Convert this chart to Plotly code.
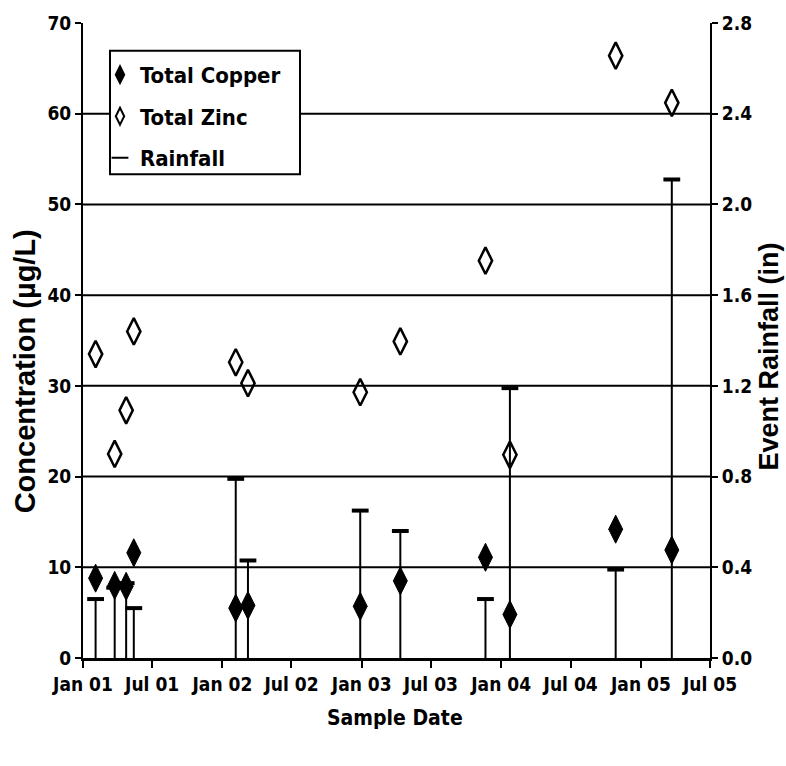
import plotly.graph_objects as go

# ---- data ----
sample_dates = ["2001-02-03", "2001-03-25", "2001-04-24", "2001-05-14",
                "2002-02-05", "2002-03-09", "2002-12-28", "2003-04-12",
                "2003-11-21", "2004-01-24", "2004-10-27", "2005-03-23"]
total_copper = [8.8, 8.0, 7.9, 11.6, 5.5, 5.8, 5.7, 8.5, 11.1, 4.8, 14.2, 11.9]
total_zinc = [33.5, 22.5, 27.3, 36.0, 32.6, 30.3, 29.3, 34.9, 43.8, 22.4, 66.4, 61.2]
rainfall = [0.26, 0.31, 0.33, 0.22, 0.79, 0.43, 0.65, 0.56, 0.26, 1.19, 0.39, 2.11]

x_tick_vals = ["2001-01-01", "2001-07-01", "2002-01-01", "2002-07-01", "2003-01-01",
               "2003-07-01", "2004-01-01", "2004-07-01", "2005-01-01", "2005-07-01"]
x_tick_text = ["Jan 01", "Jul 01", "Jan 02", "Jul 02", "Jan 03",
               "Jul 03", "Jan 04", "Jul 04", "Jan 05", "Jul 05"]
y_tick_vals = [0, 10, 20, 30, 40, 50, 60, 70]
y2_tick_vals = [0.0, 0.4, 0.8, 1.2, 1.6, 2.0, 2.4, 2.8]
y2_tick_text = ["0.0", "0.4", "0.8", "1.2", "1.6", "2.0", "2.4", "2.8"]

NARROW = "DejaVu Sans Condensed, Liberation Sans Narrow, Liberation Sans, Arial"
WIDE = "Liberation Sans, Arial"

fig = go.Figure()

# rainfall stems (drop lines from 0 to value)
stem_x, stem_y = [], []
for d, r in zip(sample_dates, rainfall):
    stem_x += [d, d, None]
    stem_y += [0, r, None]
fig.add_trace(go.Scatter(x=stem_x, y=stem_y, mode="lines", yaxis="y2",
                         line=dict(color="black", width=2),
                         showlegend=False, hoverinfo="skip"))

# concentration markers
fig.add_trace(go.Scatter(x=sample_dates, y=total_copper, mode="markers", name="<b>Total Copper</b>",
                         marker=dict(symbol="diamond-tall", size=20, color="black",
                                     line=dict(color="black", width=1)),
                         legendgroup="a"))
fig.add_trace(go.Scatter(x=sample_dates, y=total_zinc, mode="markers", name="<b>Total Zinc</b>",
                         marker=dict(symbol="diamond-tall-open", size=19, color="black",
                                     line=dict(color="black", width=2.5)),
                         legendgroup="b"))
# rainfall caps
fig.add_trace(go.Scatter(x=sample_dates, y=rainfall, mode="markers", name="<b>Rainfall</b>", yaxis="y2",
                         marker=dict(symbol="line-ew", size=12, color="black",
                                     line=dict(color="black", width=4)),
                         legendgroup="c"))

# horizontal gridlines at concentration ticks (except top edge)
for v in y_tick_vals[1:-1]:
    fig.add_shape(type="line", xref="paper", x0=0, x1=1, yref="y", y0=v, y1=v,
                  line=dict(color="black", width=2), layer="below")

# legend box
fig.add_shape(type="rect", xref="paper", yref="paper",
              x0=(110 - 83) / 627, x1=(300 - 83) / 627,
              y0=(658 - 172) / 638, y1=(658 - 48) / 638,
              line=dict(color="black", width=2), fillcolor="white", layer="below")

tickfont = dict(family=NARROW, size=19, color="black", weight="bold")

fig.update_layout(
    width=786, height=766,
    margin=dict(l=83, r=76, t=20, b=108),
    paper_bgcolor="white", plot_bgcolor="white",
    showlegend=True,
    legend=dict(x=(100 - 83) / 627, y=(658 - 51) / 638, xanchor="left", yanchor="top",
                bgcolor="rgba(0,0,0,0)", borderwidth=0,
                font=dict(family=NARROW, size=22, color="black"),
                tracegroupgap=10, itemsizing="constant", itemwidth=30),
    xaxis=dict(type="date", range=["2001-01-01", "2005-07-01"],
               tickvals=x_tick_vals, ticktext=x_tick_text,
               showgrid=False, zeroline=False,
               showline=True, linecolor="black", linewidth=3,
               ticks="outside", ticklen=7, tickwidth=2, tickcolor="black",
               tickfont=tickfont),
    yaxis=dict(range=[0, 70], tickvals=y_tick_vals,
               showgrid=False, zeroline=False,
               showline=True, linecolor="black", linewidth=2,
               ticks="outside", ticklen=6, tickwidth=2, tickcolor="black",
               tickfont=tickfont),
    yaxis2=dict(range=[0, 2.8], tickvals=y2_tick_vals, ticktext=y2_tick_text,
                overlaying="y", side="right",
                showgrid=False, zeroline=False,
                showline=True, linecolor="black", linewidth=2,
                ticks="outside", ticklen=6, tickwidth=2, tickcolor="black",
                tickfont=tickfont),
    annotations=[
        dict(text="<b>Concentration (µg/L)</b>", xref="paper", yref="paper",
             x=(25 - 83) / 627, y=(658 - 370) / 638, textangle=-90, showarrow=False,
             xanchor="center", yanchor="middle",
             font=dict(family=WIDE, size=29, color="black")),
        dict(text="<b>Event Rainfall (in)</b>", xref="paper", yref="paper",
             x=(769 - 83) / 627, y=(658 - 355) / 638, textangle=-90, showarrow=False,
             xanchor="center", yanchor="middle",
             font=dict(family=WIDE, size=27, color="black")),
        dict(text="<b>Sample Date</b>", xref="paper", yref="paper",
             x=(395 - 83) / 627, y=(658 - 718) / 638, showarrow=False,
             xanchor="center", yanchor="middle",
             font=dict(family=NARROW, size=21, color="black")),
    ],
)

fig.write_html("out.html")
